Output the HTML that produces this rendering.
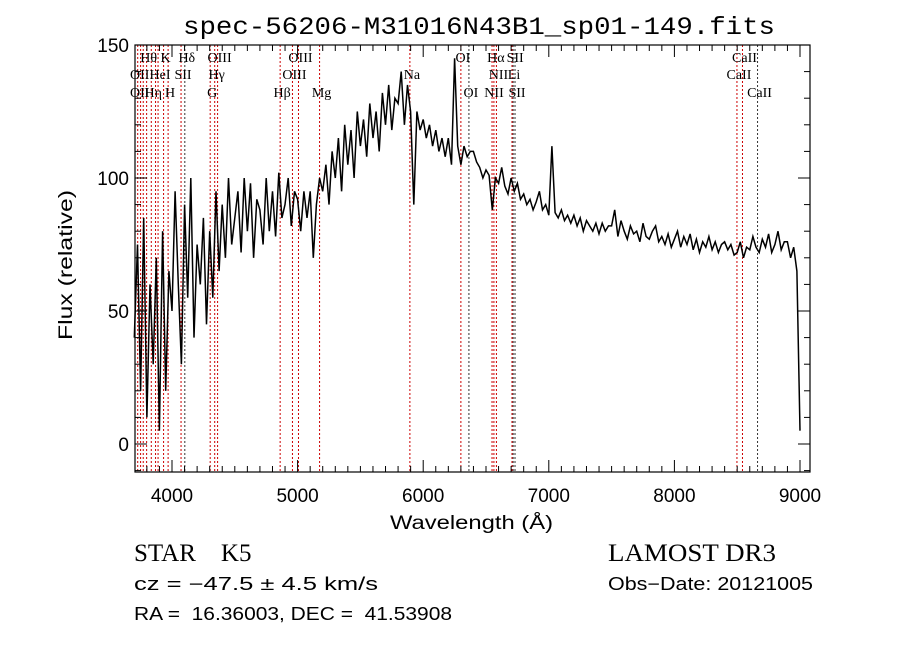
<!DOCTYPE html>
<html><head><meta charset="utf-8"><style>
body{margin:0;background:#fff;width:900px;height:649px;overflow:hidden}
svg{display:block}
text{fill:#000}
.mono{font-family:"Liberation Mono",monospace}
.sans{font-family:"Liberation Sans",sans-serif}
.serif{font-family:"Liberation Serif",serif}
</style></head><body>
<svg id="chart" width="900" height="649">
<text class="mono" x="183" y="34" font-size="25" textLength="592" lengthAdjust="spacingAndGlyphs">spec-56206-M31016N43B1_sp01-149.fits</text>
<g id="lines"></g>
<g id="plot"></g>
<g id="axes"></g>
<text class="sans" x="390" y="529" font-size="19" textLength="163" lengthAdjust="spacingAndGlyphs">Wavelength (Å)</text>
<text class="sans" x="0" y="0" font-size="19" textLength="150" lengthAdjust="spacingAndGlyphs" transform="translate(72,340) rotate(-90)">Flux (relative)</text>
<text class="serif" x="134" y="561" font-size="25">STAR &#160;&#160; K5</text>
<text class="serif" x="608" y="561" font-size="25" textLength="168" lengthAdjust="spacingAndGlyphs">LAMOST DR3</text>
<text class="sans" x="134" y="590" font-size="18" textLength="244" lengthAdjust="spacingAndGlyphs">cz = −47.5 ± 4.5 km/s</text>
<text class="sans" x="608" y="590" font-size="18" textLength="205" lengthAdjust="spacingAndGlyphs">Obs−Date: 20121005</text>
<text class="sans" x="134" y="620" font-size="18" textLength="318" lengthAdjust="spacingAndGlyphs">RA = &#160;16.36003, DEC = &#160;41.53908</text>
</svg>
<script>
const wlStart = 3700, wlStep = 25;
const flux = [
40,75,20,85, 10,60,30,70, 5,80,20,65, 50,95,60,30, 90,55,100,40, 75,60,85,45, 80,55,95,65,
90,70,100,75, 85,95,72,100, 80,98,70,92, 88,75,100,80, 95,78,102,85, 90,100,82,95, 92,80,95,85,
95,70,90,100, 95,105,90,110, 100,115,95,120, 105,118,100,125, 112,122,108,128, 115,125,110,132,
120,135,118,130, 128,140,120,135, 125,90,125,118, 122,115,120,112, 118,110,115,108, 115,105,145,112,
105,112,108,110, 110,106,104,100, 103,101,88,100, 98,104,97,94, 100,95,98,92, 94,90,92,88, 91,95,88,90,
86,112,87,85, 88,84,86,83, 86,82,85,80, 84,82,80,83, 79,83,80,82, 82,88,78,84, 80,77,82,79, 80,76,83,78,
77,80,82,76, 78,75,79,74, 77,80,74,78, 75,79,73,77, 72,76,74,78, 73,76,72,75, 76,73,75,71, 72,76,70,74,
73,78,74,72, 77,74,79,72, 75,80,73,76, 76,70,74,65, 5];
const lineWl = [3727,3750,3771,3798,3835,3869,3889,3933,3969,4072,4102,4304,4340,4363,4861,4959,5007,5175,5894,6300,6364,6548,6563,6583,6707,6716,6731,8498,8542,8662];
const lineAbs = [0,0,0,0,0,0,0,0,0,0,1,0,0,0,0,0,0,0,0,0,1,0,0,0,0,1,1,0,0,1];
const labels = [["OII",3727,1],["OII",3727,2],["Hθ",3798,0],["HeI",3889,1],["Hη",3835,2],["K",3933,0],["SII",4072,1],["H",3969,2],["Hδ",4102,0],["OIII",4363,0],["Hγ",4340,1],["G",4304,2],["OIII",5007,0],["OIII",4959,1],["Hβ",4861,2],["Mg",5175,2],["Na",5894,1],["OI",6300,0],["OI",6364,2],["Hα",6563,0],["SII",6716,0],["NII",6583,1],["Li",6707,1],["NII",6548,2],["SII",6731,2],["CaII",8542,0],["CaII",8498,1],["CaII",8662,2]];
const xTicks=[4000,5000,6000,7000,8000,9000], yTicks=[0,50,100,150];
const L=135,R=810,T=45,B=472;
const xs=w=>172+(w-4000)*0.1256;
const ys=v=>444-v*2.66;
const NS="http://www.w3.org/2000/svg";
function mk(t,a,p){const e=document.createElementNS(NS,t);for(const k in a)e.setAttribute(k,a[k]);p.appendChild(e);return e;}
const lg=document.getElementById('lines');
lineWl.forEach((w,i)=>{
 const l=mk('line',{x1:xs(w),x2:xs(w),y1:T,y2:B,stroke:lineAbs[i]?'#333':'#c00','stroke-width':1,'stroke-dasharray':'2,2'},lg);
 
 
});
const rowY=[62,79,97];
labels.forEach(([s,w,r])=>{
 const t=mk('text',{x:xs(w)+2,y:rowY[r],'font-size':14,'font-family':'"Liberation Serif",serif','text-anchor':'middle'},lg);
 t.textContent=s;
 
 
});
const pg=document.getElementById('plot');
let d='';
flux.forEach((v,i)=>{const x=xs(wlStart+i*wlStep),y=Math.max(T,Math.min(B,ys(v)));d+=(i?'L':'M')+x.toFixed(1)+','+y.toFixed(1);});
const p=mk('path',{d:d,fill:'none',stroke:'#000','stroke-width':1.5},pg);


const ag=document.getElementById('axes');
const fr=mk('rect',{x:L,y:T,width:R-L,height:B-T,fill:'none',stroke:'#000','stroke-width':1.2},ag);


for(let w=3800;w<=9000;w+=100){
 const maj=w%1000===0,len=maj?12:6,x=xs(w);
 mk('line',{x1:x,x2:x,y1:B,y2:B-len,stroke:'#000'},ag);
 mk('line',{x1:x,x2:x,y1:T,y2:T+len,stroke:'#000'},ag);
}
for(let v=-10;v<=150;v+=10){
 const maj=v%50===0,len=maj?12:6,y=ys(v);
 mk('line',{x1:L,x2:L+len,y1:y,y2:y,stroke:'#000'},ag);
 mk('line',{x1:R,x2:R-len,y1:y,y2:y,stroke:'#000'},ag);
}
xTicks.forEach(w=>{const t=mk('text',{x:xs(w),y:502,'font-size':19,'font-family':'"Liberation Sans",sans-serif','text-anchor':'middle'},ag);t.textContent=w;
 
 });
yTicks.forEach(v=>{const t=mk('text',{x:129,y:ys(v)+7,'font-size':19,'font-family':'"Liberation Sans",sans-serif','text-anchor':'end'},ag);t.textContent=v;
 
 });
</script>
</body></html>
